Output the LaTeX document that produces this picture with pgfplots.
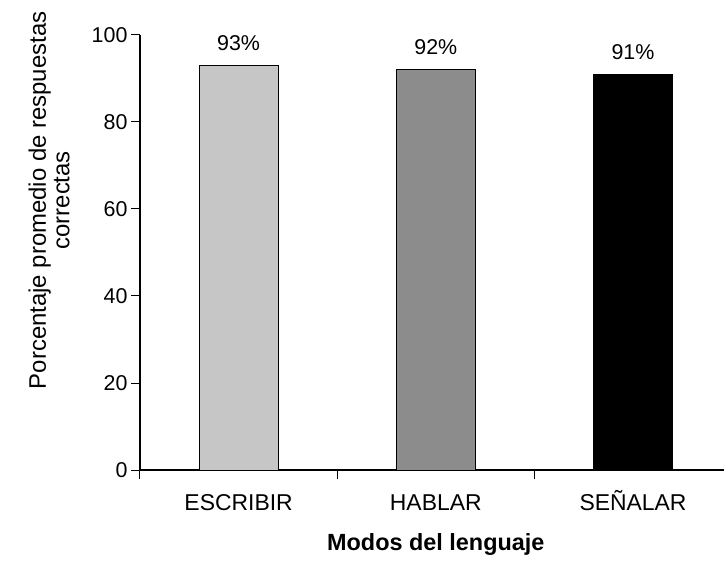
\documentclass[border=0pt]{standalone}
\usepackage{pgfplots}
\pgfplotsset{compat=1.18}
\usepackage{fontspec}
\setmainfont{Liberation Sans}
\definecolor{barA}{HTML}{C6C6C6}
\definecolor{barB}{HTML}{8C8C8C}
\definecolor{barC}{HTML}{000000}
\begin{document}
\begin{tikzpicture}
\begin{axis}[
  name=ax,
  scale only axis,
  width=591.6bp, height=435bp,
  xmin=-0.5, xmax=2.5,
  ymin=0, ymax=100,
  axis lines*=left,
  axis line style={line width=1.2bp},
  every tick/.style={black, line width=1bp},
  tick align=outside,
  major tick length=9bp,
  ytick={0,20,40,60,80,100},
  xtick={-0.5,0.5,1.5,2.5},
  x tick label as interval,
  xticklabels={ESCRIBIR,HABLAR,SEÑALAR},
  /pgf/number format/assume math mode=true,
  yticklabel style={font=\fontsize{21.5}{24}\selectfont},
  xticklabel style={font=\fontsize{23}{26}\selectfont, text height=16.5bp, text depth=0pt, yshift=-11bp},
  ylabel={Porcentaje promedio de respuestas\\correctas},
  ylabel style={at={(axis description cs:-0.1538,0.62)}, anchor=center, align=center, font=\fontsize{24}{23.5}\selectfont},
  xlabel={\textbf{Modos del lenguaje}},
  xlabel style={at={(axis description cs:0.5,0)}, anchor=base, yshift=-80bp, font=\fontsize{23.5}{26}\selectfont},
  ybar,
  bar width=0.4,
  bar shift=0pt,
  nodes near coords={\pgfmathprintnumber{\pgfplotspointmeta}\%},
  every node near coord/.append style={font=\fontsize{21.5}{24}\selectfont, black, yshift=11bp},
]
\addplot[draw=black, line width=1bp, fill=barA] coordinates {(0,93)};
\addplot[draw=black, line width=1bp, fill=barB] coordinates {(1,92)};
\addplot[draw=black, line width=1bp, fill=barC] coordinates {(2,91)};
\end{axis}
\pgfresetboundingbox
\path[use as bounding box] ([shift={(-140bp,-93bp)}]ax.south west) rectangle ([shift={(-7.6bp,35bp)}]ax.north east);
\end{tikzpicture}
\end{document}
